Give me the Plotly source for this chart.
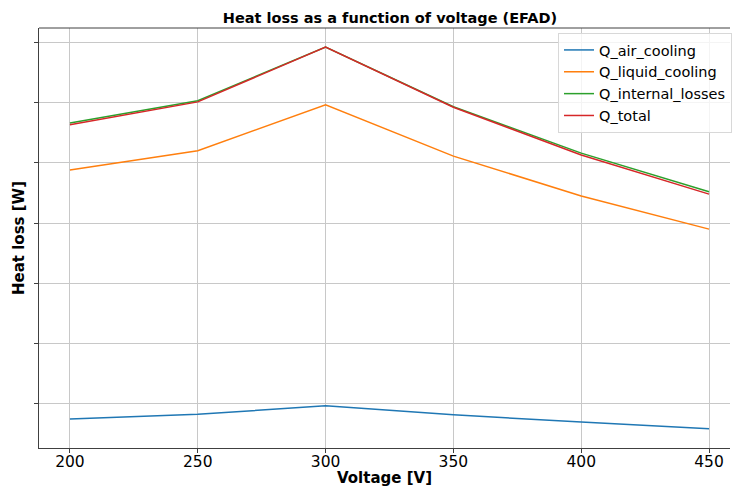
import plotly.graph_objects as go

voltage = [200, 250, 300, 350, 400, 450]
q_air = [-0.25, -0.17, -0.03, -0.18, -0.30, -0.41]
q_liquid = [3.88, 4.20, 4.96, 4.11, 3.45, 2.90]
q_internal = [4.66, 5.03, 5.92, 4.93, 4.16, 3.52]
q_total = [4.63, 5.01, 5.92, 4.92, 4.13, 3.48]
y_ticks = [0, 1, 2, 3, 4, 5, 6]
x_ticks = [200, 250, 300, 350, 400, 450]

series = [
    ("Q_air_cooling", q_air, "#1f77b4"),
    ("Q_liquid_cooling", q_liquid, "#ff7f0e"),
    ("Q_internal_losses", q_internal, "#2ca02c"),
    ("Q_total", q_total, "#d62728"),
]

fig = go.Figure()
for name, vals, col in series:
    fig.add_trace(go.Scatter(x=voltage, y=vals, mode="lines", name=name,
                             line=dict(color=col, width=1.5)))

font = "DejaVu Sans"
fig.update_layout(
    width=732, height=486,
    margin=dict(l=39, r=1, t=28, b=38),
    paper_bgcolor="white", plot_bgcolor="white",
    font=dict(family=font, size=15, color="black"),
    title=dict(text="<b>Heat loss as a function of voltage (EFAD)</b>",
               x=390 / 732, xanchor="center", y=1 - 18 / 486, yanchor="middle",
               font=dict(family=font, size=14.5)),
    legend=dict(x=(558 - 39) / 692, y=1 - 5 / 420, xanchor="left", yanchor="top",
                bgcolor="rgba(255,255,255,0.8)", bordercolor="#d8d8d8", borderwidth=1,
                font=dict(family=font, size=14.5), tracegroupgap=0, itemwidth=30),
    showlegend=True,
)
fig.update_xaxes(range=[187.9, 458.2], tickvals=x_ticks, showgrid=True, gridcolor="#c8c8c8",
                 gridwidth=0.8, showline=True, linecolor="#404040", linewidth=1,
                 ticks="outside", ticklen=4, tickcolor="#404040", zeroline=False, automargin=False,
                 ticklabelstandoff=-5,
                 tickfont=dict(family=font, size=15.5))
fig.update_yaxes(range=[-0.73, 6.235], tickvals=y_ticks, showticklabels=False, showgrid=True,
                 gridcolor="#c8c8c8", gridwidth=0.8, showline=True, linecolor="#404040",
                 linewidth=1, ticks="outside", ticklen=4, tickcolor="#404040", zeroline=False,
                 automargin=False)
fig.add_annotation(text="<b>Voltage [V]</b>", xref="paper", yref="paper",
                   x=0.5, y=-(478 - 448) / 420, xanchor="center", yanchor="middle",
                   showarrow=False, font=dict(family=font, size=15))
fig.add_annotation(text="<b>Heat loss [W]</b>", xref="paper", yref="paper",
                   x=-(39 - 19) / 692, y=0.5, xanchor="center", yanchor="middle", textangle=-90,
                   showarrow=False, font=dict(family=font, size=15))
fig.add_shape(type="line", xref="paper", yref="paper", x0=0, x1=1, y0=1, y1=1,
              line=dict(color="#404040", width=1))
fig.write_html("out.html")
